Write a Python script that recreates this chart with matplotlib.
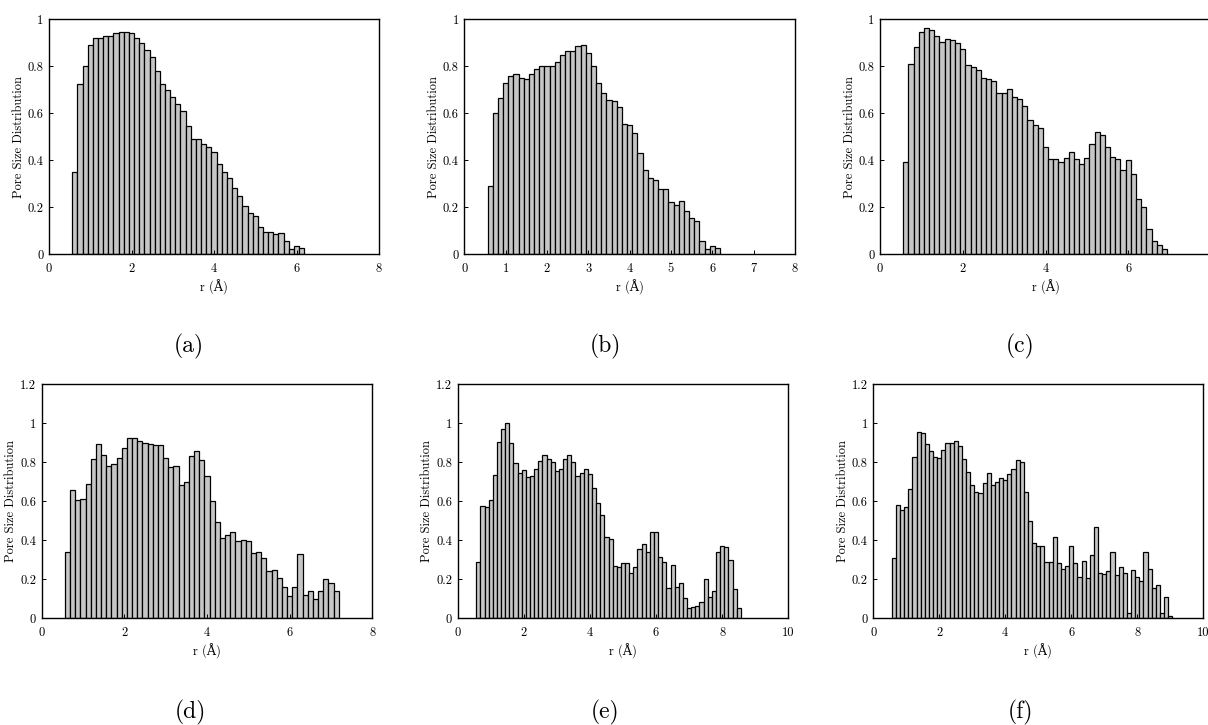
import numpy as np
import matplotlib
matplotlib.use("Agg")
import matplotlib.pyplot as plt
from matplotlib.ticker import FuncFormatter, MultipleLocator, FixedLocator

# ---------------- data ----------------
bin_start = 0.5625
bin_width = 0.125

psd_a = [0.35, 0.725, 0.80, 0.89, 0.92, 0.92, 0.93, 0.93, 0.94, 0.945, 0.945, 0.94,
         0.92, 0.90, 0.87, 0.84, 0.78, 0.725, 0.70, 0.67, 0.64, 0.61, 0.545, 0.49,
         0.49, 0.47, 0.455, 0.435, 0.385, 0.35, 0.325, 0.28, 0.245, 0.205, 0.175,
         0.16, 0.115, 0.095, 0.095, 0.085, 0.09, 0.055, 0.02, 0.035, 0.025]

psd_b = [0.29, 0.60, 0.665, 0.73, 0.76, 0.765, 0.75, 0.745, 0.765, 0.79, 0.80, 0.80,
         0.80, 0.82, 0.85, 0.865, 0.865, 0.885, 0.89, 0.855, 0.80, 0.73, 0.685, 0.655,
         0.65, 0.625, 0.555, 0.55, 0.515, 0.43, 0.36, 0.325, 0.315, 0.275, 0.275,
         0.22, 0.21, 0.225, 0.185, 0.155, 0.14, 0.055, 0.02, 0.035, 0.025]

psd_c = [0.39, 0.81, 0.88, 0.945, 0.965, 0.955, 0.93, 0.905, 0.915, 0.91, 0.90, 0.875,
         0.805, 0.795, 0.785, 0.75, 0.745, 0.735, 0.685, 0.685, 0.705, 0.67, 0.66, 0.63,
         0.57, 0.55, 0.535, 0.455, 0.405, 0.405, 0.39, 0.41, 0.435, 0.405, 0.385, 0.41,
         0.47, 0.52, 0.505, 0.455, 0.415, 0.405, 0.36, 0.40, 0.34, 0.235, 0.20, 0.105,
         0.055, 0.04, 0.02]

psd_d = [0.34, 0.655, 0.605, 0.61, 0.685, 0.815, 0.89, 0.835, 0.78, 0.79, 0.82, 0.87,
         0.925, 0.925, 0.91, 0.90, 0.89, 0.885, 0.885, 0.82, 0.775, 0.78, 0.68, 0.70,
         0.83, 0.855, 0.81, 0.73, 0.60, 0.49, 0.41, 0.425, 0.44, 0.395, 0.40, 0.395,
         0.335, 0.34, 0.31, 0.24, 0.245, 0.205, 0.16, 0.115, 0.16, 0.33, 0.12, 0.14,
         0.10, 0.14, 0.20, 0.18, 0.14]

psd_e = [0.289, 0.576, 0.569, 0.607, 0.733, 0.904, 0.968, 0.998, 0.899, 0.793, 0.745,
         0.761, 0.725, 0.726, 0.764, 0.807, 0.834, 0.817, 0.802, 0.756, 0.764, 0.814,
         0.834, 0.802, 0.726, 0.745, 0.766, 0.737, 0.665, 0.588, 0.53, 0.417, 0.403,
         0.265, 0.26, 0.28, 0.28, 0.232, 0.26, 0.352, 0.378, 0.34, 0.44, 0.44, 0.313,
         0.287, 0.156, 0.273, 0.157, 0.18, 0.104, 0.051, 0.056, 0.063, 0.082, 0.20,
         0.106, 0.137, 0.338, 0.37, 0.362, 0.30, 0.15, 0.051]

psd_f = [0.309, 0.579, 0.556, 0.571, 0.66, 0.827, 0.952, 0.949, 0.892, 0.855, 0.826,
         0.822, 0.863, 0.90, 0.90, 0.908, 0.88, 0.814, 0.749, 0.684, 0.646, 0.639, 0.69,
         0.742, 0.68, 0.696, 0.72, 0.709, 0.74, 0.764, 0.812, 0.798, 0.648, 0.497, 0.385,
         0.367, 0.367, 0.289, 0.287, 0.415, 0.284, 0.251, 0.268, 0.371, 0.28, 0.212,
         0.292, 0.205, 0.325, 0.465, 0.229, 0.226, 0.243, 0.338, 0.222, 0.26, 0.231,
         0.026, 0.248, 0.209, 0.188, 0.338, 0.25, 0.152, 0.171, 0.024, 0.109, 0.01]

panel_series = [psd_a, psd_b, psd_c, psd_d, psd_e, psd_f]
panel_labels = ["(a)", "(b)", "(c)", "(d)", "(e)", "(f)"]
x_max = [8, 8, 8, 8, 10, 10]
x_ticks = [[0, 2, 4, 6, 8], [0, 1, 2, 3, 4, 5, 6, 7, 8], [0, 2, 4, 6],
           [0, 2, 4, 6, 8], [0, 2, 4, 6, 8, 10], [0, 2, 4, 6, 8, 10]]
y_max = [1.0, 1.0, 1.0, 1.2, 1.2, 1.2]
x_label = "r (Å)"
y_label = "Pore Size Distribution"

# ---------------- style ----------------
W, H = 1208, 725
FONT = ["cmr10", "DejaVu Serif"]
plt.rcParams["axes.formatter.use_mathtext"] = True

fig = plt.figure(figsize=(W / 100, H / 100), dpi=100)

# axes boxes in pixel coords: (left, right, top, bottom)
boxes = [
    (49.0, 379.0, 19.3, 254.0),
    (464.3, 795.0, 19.3, 254.0),
    (880.0, 1211.0, 19.3, 254.0),
    (41.7, 372.3, 384.0, 618.0),
    (457.7, 788.3, 384.0, 618.0),
    (873.3, 1203.3, 384.0, 618.0),
]
label_pos = [(189, 346), (605, 346), (1020, 346), (190, 712), (605, 712), (1021, 712)]

fmt = FuncFormatter(lambda v, p: ("%g" % round(v, 6)))

for i, series in enumerate(panel_series):
    l, r, t, b = boxes[i]
    ax = fig.add_axes([l / W, 1 - b / H, (r - l) / W, (b - t) / H])
    ax.set_facecolor("none")
    edges = bin_start + bin_width * np.arange(len(series))
    ax.bar(edges, series, width=bin_width, align="edge", color="#c6c6c6",
           edgecolor="black", linewidth=0.9)
    ax.set_xlim(0, x_max[i])
    ax.set_ylim(0, y_max[i])
    ax.xaxis.set_major_locator(FixedLocator(x_ticks[i]))
    ax.yaxis.set_major_locator(MultipleLocator(0.2))
    ax.xaxis.set_major_formatter(fmt)
    ax.yaxis.set_major_formatter(fmt)
    ax.tick_params(direction="in", length=3, width=0.7, labelsize=9)
    ax.tick_params(axis="x", pad=6.5)
    ax.tick_params(axis="y", pad=4)
    for lab in ax.get_xticklabels() + ax.get_yticklabels():
        lab.set_family(FONT)
    for s in ax.spines.values():
        s.set_linewidth(1.0)
    ax.set_xlabel(x_label, family=FONT, fontsize=9, labelpad=3)
    ax.set_ylabel(y_label, family=FONT, fontsize=9, labelpad=2)
    lx, ly = label_pos[i]
    fig.text(lx / W, 1 - ly / H, panel_labels[i], family=FONT, fontsize=17,
             ha="center", va="center")

fig.savefig("out.png", dpi=100)
